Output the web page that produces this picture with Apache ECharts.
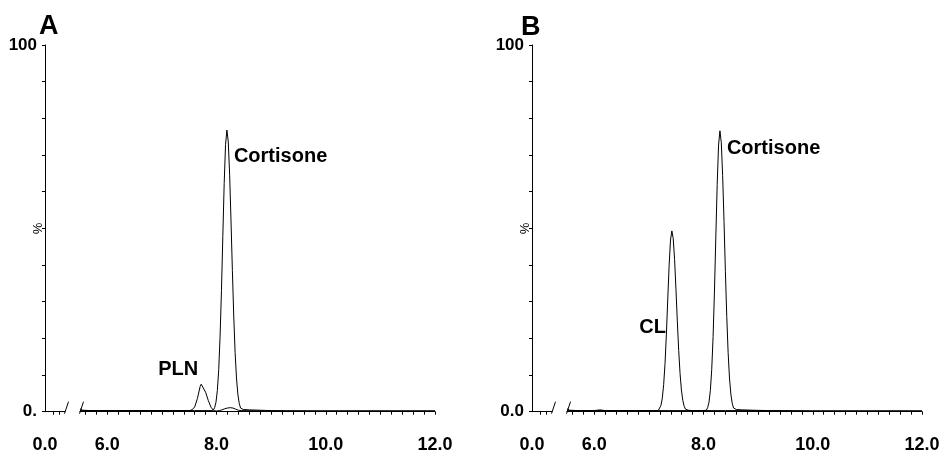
<!DOCTYPE html>
<html>
<head>
<meta charset="utf-8">
<script src="https://cdn.jsdelivr.net/npm/echarts@6/dist/echarts.min.js"></script>
<style>
html,body{margin:0;padding:0;background:#fff;}
#chart{width:943px;height:455px;}
</style>
</head>
<body>
<div id="chart"></div>
<script>
// ---------- data ----------
const panelTitles = ['A', 'B'];
const xTicksMain = [5.6,5.8,6.0,6.2,6.4,6.6,6.8,7.0,7.2,7.4,7.6,7.8,8.0,8.2,8.4,8.6,8.8,9.0,9.2,9.4,9.6,9.8,10.0,10.2,10.4,10.6,10.8,11.0,11.2,11.4,11.6,11.8,12.0];
const xLabelsMain = [6, 8, 10, 12];
const xTicksBreak = [0.15, 0.26];
const xLabelsBreak = [0];
const yLabelValues = [0, 100];
const yLabelTextA = ['0.', '100'];
const yLabelTextB = ['0.0', '100'];

// Panel A – cortisone channel
const aCortisone = [
  [5.5,0.8],[5.55,0.4],[5.7,0.3],[6.0,0.3],[6.4,0.3],[6.8,0.3],[7.2,0.3],[7.6,0.3],[7.9,0.3],
  [7.94,0.4],[7.965,1.1],[7.99,2.6],[8.015,5.8],[8.04,11.5],[8.065,20.6],[8.09,33.0],[8.115,47.8],[8.14,62.2],[8.165,72.9],
  [8.19,76.8],
  [8.215,73.6],[8.24,64.6],[8.265,52.0],[8.29,38.5],[8.315,26.1],[8.34,16.2],[8.365,9.2],[8.39,4.8],[8.415,2.3],[8.44,1.0],
  [8.49,0.6],[8.6,0.5],[8.8,0.4],[9.0,0.3],[9.3,0.25],[9.8,0.2],[10.5,0.2],[11.2,0.2],[12.0,0.2]
];
// Panel A – PLN channel
const aPLN = [
  [5.5,0.3],[6.0,0.3],[6.6,0.3],[7.2,0.3],[7.5,0.3],[7.55,0.5],[7.6,1.3],[7.65,3.6],[7.7,6.9],[7.72,7.5],[7.75,7.1],
  [7.8,5.3],[7.85,3.0],[7.9,1.2],[7.95,0.3],[8.0,0.2],[8.05,0.3],[8.1,0.5],[8.15,0.8],[8.2,1.0],[8.25,1.1],
  [8.3,1.0],[8.35,0.7],[8.4,0.4],[8.45,0.3],[9.0,0.2],[10.0,0.2],[11.0,0.2],[12.0,0.2]
];
// Panel B – CL channel
const bCL = [
  [5.5,0.8],[5.55,0.4],[5.7,0.3],[6.0,0.3],[6.1,0.5],[6.2,0.3],[6.6,0.3],[7.0,0.3],
  [7.17,0.3],[7.195,0.7],[7.22,1.7],[7.245,3.7],[7.27,7.4],[7.295,13.2],[7.32,21.2],[7.345,30.7],[7.37,39.9],[7.395,46.8],
  [7.42,49.3],
  [7.445,47.2],[7.47,41.5],[7.495,33.4],[7.52,24.7],[7.545,16.7],[7.57,10.4],[7.595,5.9],[7.62,3.1],[7.645,1.5],[7.67,0.7],
  [7.72,0.4],[7.8,0.3],[8.4,0.3],[9.0,0.3],[10.0,0.2],[11.0,0.2],[12.0,0.2]
];
// Panel B – cortisone channel
const bCortisone = [
  [5.5,0.3],[6.0,0.3],[7.0,0.3],[7.8,0.3],[8.0,0.3],
  [8.05,0.4],[8.075,1.1],[8.1,2.6],[8.125,5.8],[8.15,11.5],[8.175,20.5],[8.2,32.9],[8.225,47.6],[8.25,62.0],[8.275,72.7],
  [8.3,76.6],
  [8.325,73.4],[8.35,64.4],[8.375,51.9],[8.4,38.3],[8.425,26.0],[8.45,16.2],[8.475,9.2],[8.5,4.8],[8.525,2.3],[8.55,1.0],
  [8.6,0.6],[8.7,0.5],[8.9,0.4],[9.2,0.3],[10.0,0.2],[11.0,0.2],[12.0,0.2]
];

// ---------- chart ----------
const FONT = '"Liberation Sans", Arial, sans-serif';
const chart = echarts.init(document.getElementById('chart'), null, {renderer: 'canvas'});

const gridTop = 45, gridH = 366.7;
const grids = [
  {left: 45, top: gridTop, width: 20, height: gridH},
  {left: 80, top: gridTop, width: 355, height: gridH},
  {left: 532, top: gridTop, width: 20, height: gridH},
  {left: 567, top: gridTop, width: 355, height: gridH}
];

const axisLine = {show: true, onZero: false, lineStyle: {color: '#000', width: 1}};
const labelStyle = {color: '#000', fontFamily: FONT, fontWeight: 'bold', fontSize: 18};

function breakX(gi) {
  return {
    gridIndex: gi, type: 'value', min: 0, max: 0.36,
    axisLine: axisLine,
    axisTick: {show: true, inside: false, length: 3, customValues: xTicksBreak, lineStyle: {color: '#000'}},
    axisLabel: Object.assign({show: true, margin: 24, customValues: xLabelsBreak,
      formatter: v => v.toFixed(1)}, labelStyle),
    splitLine: {show: false}
  };
}
function mainX(gi) {
  return {
    gridIndex: gi, type: 'value', min: 5.5, max: 12.0,
    axisLine: axisLine,
    axisTick: {show: true, inside: false, length: 3, customValues: xTicksMain, lineStyle: {color: '#000'}},
    axisLabel: Object.assign({show: true, margin: 24, customValues: xLabelsMain,
      formatter: v => v.toFixed(1)}, labelStyle),
    splitLine: {show: false}
  };
}
function visY(gi, texts) {
  return {
    gridIndex: gi, type: 'value', min: 0, max: 100, interval: 10,
    name: '%', nameLocation: 'middle', nameGap: 0, nameRotate: 90, nameMoveOverlap: false,
    nameTextStyle: {color: '#000', fontFamily: FONT, fontSize: 13},
    axisLine: axisLine,
    axisTick: {show: true, inside: false, length: 3, lineStyle: {color: '#000'}},
    axisLabel: Object.assign({show: true, margin: 8, formatter: v => {
      const i = yLabelValues.indexOf(v); return i >= 0 ? texts[i] : '';
    }}, labelStyle, {fontSize: 17}),
    splitLine: {show: false}
  };
}
function hidY(gi) {
  return {gridIndex: gi, type: 'value', min: 0, max: 100, show: false, splitLine: {show: false}};
}

function trace(data, xi, yi, marks) {
  return {
    type: 'line', data: data, xAxisIndex: xi, yAxisIndex: yi,
    showSymbol: false, symbol: 'none', smooth: false,
    lineStyle: {color: '#000', width: 1},
    markPoint: {
      symbol: 'circle', symbolSize: 0, silent: true,
      itemStyle: {color: 'rgba(0,0,0,0)'},
      data: marks.map(m => ({
        coord: m.coord,
        label: {show: true, formatter: m.text, position: m.pos, distance: 0, offset: m.offset,
          color: '#000', fontFamily: FONT, fontWeight: 'bold', fontSize: 20}
      }))
    }
  };
}

chart.setOption({
  animation: false,
  backgroundColor: '#fff',
  title: [
    {text: panelTitles[0], left: 34, top: 8, textStyle: {fontFamily: FONT, fontWeight: 'bold', fontSize: 27, color: '#000'}},
    {text: panelTitles[1], left: 516, top: 9, textStyle: {fontFamily: FONT, fontWeight: 'bold', fontSize: 27, color: '#000'}}
  ],
  grid: grids,
  xAxis: [breakX(0), mainX(1), breakX(2), mainX(3)],
  yAxis: [visY(0, yLabelTextA), hidY(1), visY(2, yLabelTextB), hidY(3)],
  series: [
    trace(aCortisone, 1, 1, [{coord: [8.19, 76.8], text: 'Cortisone', pos: 'right', offset: [7, 26]}]),
    trace(aPLN, 1, 1, [{coord: [7.72, 7.5], text: 'PLN', pos: 'left', offset: [-3, -15]}]),
    trace(bCL, 3, 3, [{coord: [7.42, 49.3], text: 'CL', pos: 'left', offset: [-6, 97]}]),
    trace(bCortisone, 3, 3, [{coord: [8.3, 76.6], text: 'Cortisone', pos: 'right', offset: [7, 18]}])
  ]
});

// axis-break slashes, placed from the axes' own scales
function slashAt(xAxisIndex, yAxisIndex, xv) {
  const p = chart.convertToPixel({xAxisIndex: xAxisIndex, yAxisIndex: yAxisIndex}, [xv, 0]);
  return {
    type: 'line', silent: true,
    shape: {x1: p[0] - 0.5, y1: p[1] + 2, x2: p[0] + 3.5, y2: p[1] - 10},
    style: {stroke: '#000', lineWidth: 1}
  };
}
chart.setOption({
  graphic: [
    slashAt(0, 0, 0.36), slashAt(1, 1, 5.5),
    slashAt(2, 2, 0.36), slashAt(3, 3, 5.5)
  ]
});
</script>
</body>
</html>
